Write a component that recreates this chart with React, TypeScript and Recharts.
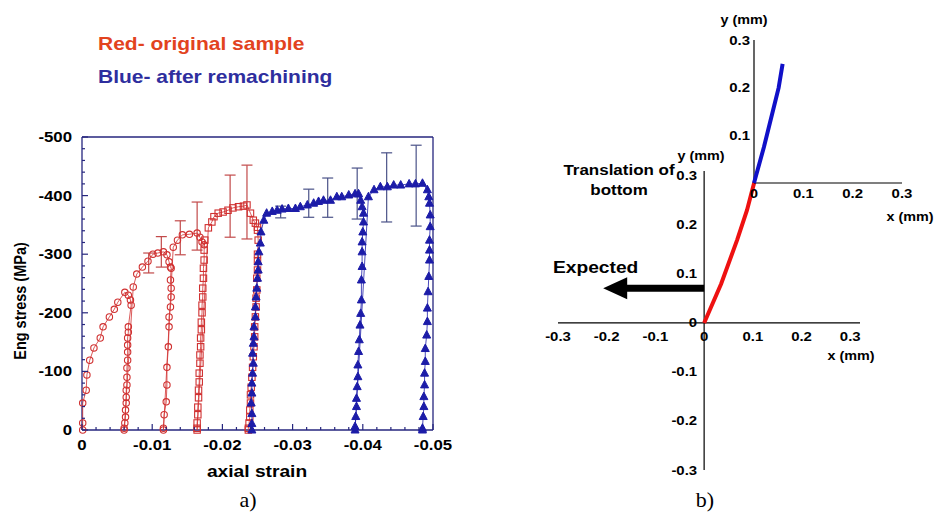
import React from "react"
import { ScatterChart, Scatter, XAxis, YAxis, ErrorBar, ReferenceLine } from "recharts"

const SANS = '"Liberation Sans", Arial, sans-serif'
const SERIF = '"Liberation Serif", "Times New Roman", serif'
const FRAME = "#26267e"
const RED = "#d03030"
const BLUE = "#1c1ca8"

// ---------- panel a): stress vs axial strain ----------
const circleStrain = [
  -0.0001, -0.0001, -0.0001, -0.0006, -0.0007, -0.0011, -0.0017, -0.0026, -0.003, -0.0039, -0.0046, -0.0051,
  -0.0061, -0.0066, -0.0069, -0.007,
  -0.0066, -0.0066, -0.0065, -0.0065, -0.0065, -0.0065, -0.0064, -0.0064, -0.0064, -0.0063, -0.0063, -0.0063,
  -0.0062, -0.0062, -0.0061, -0.006, -0.006,
  -0.0073, -0.0078, -0.0086, -0.0094, -0.0101, -0.0108, -0.0116, -0.0121, -0.0124, -0.0126, -0.0127,
  -0.0126, -0.0127, -0.0127, -0.0126, -0.0124, -0.0124, -0.0123, -0.0121, -0.0121, -0.012, -0.0117, -0.0116, -0.0116,
  -0.013, -0.0136, -0.0143, -0.0153, -0.0164, -0.0168, -0.0171, -0.0174,
]
const circleStress = [
  0, -12, -46, -68, -94, -119, -140, -157, -176, -193, -206, -218,
  -235, -230, -222, -213,
  -176, -167, -157, -145, -133, -119, -106, -90, -77, -68, -56, -46,
  -34, -22, -12, -3, 0,
  -244, -266, -278, -288, -300, -302, -304, -299, -287, -278, -276,
  -256, -242, -227, -210, -193, -176, -142, -107, -77, -48, -26, -3, 0,
  -312, -324, -333, -334, -336, -329, -321, -316,
]

const squareStrain = [
  -0.0175, -0.0174, -0.0174, -0.0173, -0.0173, -0.0172, -0.0172, -0.0171, -0.0171, -0.017, -0.017, -0.0169,
  -0.0169, -0.0168, -0.0168, -0.0167, -0.0167, -0.0166, -0.0166, -0.0165, -0.0165, -0.0164, -0.0164, -0.0164,
  -0.018, -0.0185, -0.0188, -0.0194, -0.0201, -0.0208, -0.0215, -0.0223, -0.023, -0.0235, -0.024, -0.0244,
  -0.0247, -0.025, -0.025,
  -0.0251, -0.025, -0.025, -0.025, -0.0249, -0.0249, -0.0248, -0.0248, -0.0247, -0.0246, -0.0246, -0.0245,
  -0.0244, -0.0243, -0.0242, -0.0241, -0.024, -0.024, -0.0239, -0.0239, -0.0238, -0.0237, -0.0237,
]
const squareStress = [
  -324, -307, -290, -276, -259, -242, -227, -213, -200, -184, -171, -157,
  -142, -128, -114, -97, -82, -68, -55, -39, -26, -12, -3, 0,
  -345, -355, -364, -370, -372, -375, -379, -381, -382, -384, -370, -358,
  -353, -346, -341,
  -324, -300, -288, -273, -259, -239, -225, -210, -193, -176, -159, -142,
  -125, -107, -90, -73, -60, -46, -34, -22, -12, -3, 0,
]

const triStrain = [
  -0.0242, -0.0242, -0.0242, -0.0241, -0.0242, -0.0242, -0.0243, -0.0244, -0.0243, -0.0244, -0.0245, -0.0245,
  -0.0247, -0.0247, -0.0248, -0.0249, -0.025, -0.0251, -0.0251, -0.0252, -0.0254, -0.0255,
  -0.0259, -0.0263, -0.0271, -0.0278, -0.0285, -0.0294, -0.0304, -0.0311, -0.0321, -0.033, -0.0337, -0.0344,
  -0.0354, -0.0363, -0.037, -0.038, -0.0389, -0.0394, -0.0397, -0.0399, -0.0401,
  -0.0401, -0.04, -0.0399, -0.0399, -0.0399, -0.0398, -0.0398, -0.0397, -0.0396, -0.0395, -0.0394, -0.0393,
  -0.0393, -0.0392, -0.0391, -0.0391, -0.039, -0.0389, -0.0389,
  -0.0408, -0.0416, -0.0425, -0.0435, -0.0444, -0.0454, -0.0466, -0.0475, -0.0485, -0.0492, -0.0494,
  -0.0495, -0.0496, -0.0496, -0.0495, -0.0495, -0.0495, -0.0494, -0.0493, -0.0492, -0.0492, -0.0491, -0.0489,
  -0.0489, -0.0488, -0.0488, -0.0487, -0.0487, -0.0486, -0.0485, -0.0485,
]
const triStress = [
  0, -11, -28, -46, -63, -80, -97, -114, -131, -148, -159, -176,
  -193, -210, -227, -242, -259, -273, -287, -304, -319, -338,
  -358, -370, -373, -375, -377, -378, -378, -381, -384, -387, -390, -392,
  -392, -398, -398, -401, -403, -403, -392, -381, -370,
  -355, -338, -321, -304, -279, -256, -222, -199, -179, -154, -134, -111,
  -91, -74, -54, -40, -23, -6, 0,
  -398, -410, -415, -415, -418, -418, -420, -420, -421, -410, -398,
  -387, -367, -347, -324, -307, -290, -262, -236, -208, -185, -162, -139,
  -117, -97, -77, -57, -40, -23, -3, 0,
]

const redBarStrain = [-0.0095, -0.0113, -0.014, -0.0164, -0.0211, -0.0235]
const redBarTop = [-302, -330, -357, -389, -435, -452]
const redBarBottom = [-268, -278, -299, -307, -329, -326]
const blueBarStrain = [-0.0283, -0.0323, -0.035, -0.0392, -0.0434, -0.0476]
const blueBarTop = [-382, -411, -430, -447, -473, -486]
const blueBarBottom = [-362, -363, -363, -360, -355, -348]

const strainTickLabels = ["0", "-0.01", "-0.02", "-0.03", "-0.04", "-0.05"]
const stressTickLabels = ["0", "-100", "-200", "-300", "-400", "-500"]

// ---------- panel b): translation of bottom ----------
const redPathX = [0, 0.035, 0.068, 0.088, 0.103]
const redPathY = [0, 0.08, 0.17, 0.23, 0.287]
const bluePathX = [0, 0.02, 0.038, 0.05, 0.058]
const bluePathY = [0, 0.075, 0.15, 0.2, 0.25]
const arrowX = [0, -0.16]
const arrowY = [0.071, 0.071]

const lowerTicks = [-0.3, -0.2, -0.1, 0, 0.1, 0.2, 0.3]
const lowerTickLabels = ["-0.3", "-0.2", "-0.1", "0", "0.1", "0.2", "0.3"]
const upperXTicks = [0, 0.1, 0.2, 0.3]
const upperXTickLabels = ["0", "0.1", "0.2", "0.3"]
const upperYTicks = [0.1, 0.2, 0.3]
const upperYTickLabels = ["0.1", "0.2", "0.3"]

const pts = (xs: number[], ys: number[]) => xs.map((x, i) => ({ x, y: ys[i] }))
const bars = (xs: number[], top: number[], bottom: number[]) =>
  xs.map((x, i) => {
    const c = (top[i] + bottom[i]) / 2
    return { x, y: c, err: [c - top[i], bottom[i] - c] }
  })

const minorStrain = Array.from({ length: 26 }, (_, i) => -i * 0.002)
const minorStress = Array.from({ length: 26 }, (_, i) => -i * 20)
const strainMajor = (v: number) => Math.round(Math.abs(v) / 0.002) % 5 === 0
const stressMajor = (v: number) => Math.round(Math.abs(v)) % 100 === 0

function SText({ x, y, anchor = "start", size, color = "#000", sx = 1.2, family = SANS, weight = "bold", children }: any) {
  return (
    <text
      transform={`translate(${x} ${y}) scale(${sx} 1)`}
      textAnchor={anchor}
      fontSize={size}
      fontFamily={family}
      fontWeight={weight}
      fill={color}
    >
      {children}
    </text>
  )
}

const BottomTick = (p: any) => {
  const v = p.payload.value
  const major = strainMajor(v)
  return (
    <g>
      <line x1={p.x} x2={p.x} y1={p.y} y2={p.y - (major ? 6 : 3)} stroke={FRAME} strokeWidth={1.2} />
      {major && (
        <SText x={p.x} y={p.y + 20} anchor="middle" size={14}>
          {strainTickLabels[Math.round(Math.abs(v) / 0.01)]}
        </SText>
      )}
    </g>
  )
}
const TopTick = (p: any) => (
  <line x1={p.x} x2={p.x} y1={p.y} y2={p.y + (strainMajor(p.payload.value) ? 6 : 3)} stroke={FRAME} strokeWidth={1.2} />
)
const LeftTick = (p: any) => {
  const v = p.payload.value
  const major = stressMajor(v)
  return (
    <g>
      <line x1={p.x} x2={p.x + (major ? 6 : 3)} y1={p.y} y2={p.y} stroke={FRAME} strokeWidth={1.2} />
      {major && (
        <SText x={p.x - 10} y={p.y + 5} anchor="end" size={14}>
          {stressTickLabels[Math.round(Math.abs(v) / 100)]}
        </SText>
      )}
    </g>
  )
}
const RightTick = (p: any) => (
  <line x1={p.x} x2={p.x - (stressMajor(p.payload.value) ? 6 : 3)} y1={p.y} y2={p.y} stroke={FRAME} strokeWidth={1.2} />
)

const circleShape = (p: any) => <circle cx={p.cx} cy={p.cy} r={3.2} fill="none" stroke={RED} strokeWidth={1.1} />
const squareShape = (p: any) => (
  <rect x={p.cx - 3.2} y={p.cy - 3.2} width={6.4} height={6.4} fill="none" stroke={RED} strokeWidth={1.1} />
)
const triShape = (p: any) => (
  <polygon points={`${p.cx},${p.cy - 4.5} ${p.cx - 4},${p.cy + 3} ${p.cx + 4},${p.cy + 3}`} fill={BLUE} stroke={BLUE} />
)
const noShape = () => <g />

const frameLine = { stroke: FRAME, strokeWidth: 1.3 }

function StressChart() {
  return (
    <ScatterChart width={470} height={470} margin={{ top: 136, right: 36, bottom: 0, left: 0 }}>
      <XAxis
        type="number"
        dataKey="x"
        domain={[-0.05, 0]}
        reversed
        ticks={minorStrain}
        interval={0}
        height={40}
        tickSize={0}
        tickMargin={0}
        tickLine={false}
        tick={BottomTick}
        axisLine={frameLine}
      />
      <XAxis
        xAxisId="top"
        orientation="top"
        type="number"
        domain={[-0.05, 0]}
        reversed
        ticks={minorStrain}
        interval={0}
        height={1}
        tickSize={0}
        tickMargin={0}
        tickLine={false}
        tick={TopTick}
        axisLine={frameLine}
      />
      <YAxis
        type="number"
        dataKey="y"
        domain={[-500, 0]}
        reversed
        ticks={minorStress}
        interval={0}
        width={82}
        tickSize={0}
        tickMargin={0}
        tickLine={false}
        tick={LeftTick}
        axisLine={frameLine}
      />
      <YAxis
        yAxisId="right"
        orientation="right"
        type="number"
        domain={[-500, 0]}
        reversed
        ticks={minorStress}
        interval={0}
        width={1}
        tickSize={0}
        tickMargin={0}
        tickLine={false}
        tick={RightTick}
        axisLine={frameLine}
      />
      <Scatter data={bars(redBarStrain, redBarTop, redBarBottom)} shape={noShape} isAnimationActive={false}>
        <ErrorBar dataKey="err" direction="y" width={5.5} stroke="#c24a4a" strokeWidth={1.2} isAnimationActive={false} />
      </Scatter>
      <Scatter data={bars(blueBarStrain, blueBarTop, blueBarBottom)} shape={noShape} isAnimationActive={false}>
        <ErrorBar dataKey="err" direction="y" width={5.5} stroke="#4a5288" strokeWidth={1.2} isAnimationActive={false} />
      </Scatter>
      <Scatter
        data={pts(circleStrain, circleStress)}
        shape={circleShape}
        fill={RED}
        line={{ stroke: RED, strokeWidth: 0.8 }}
        isAnimationActive={false}
      />
      <Scatter
        data={pts(squareStrain, squareStress)}
        shape={squareShape}
        fill={RED}
        line={{ stroke: RED, strokeWidth: 0.8 }}
        isAnimationActive={false}
      />
      <Scatter
        data={pts(triStrain, triStress)}
        shape={triShape}
        fill={BLUE}
        line={{ stroke: BLUE, strokeWidth: 0.8 }}
        isAnimationActive={false}
      />
    </ScatterChart>
  )
}

const labelPts = (xs: number[], ys: number[], labels: string[]) => xs.map((x, i) => ({ x, y: ys[i], label: labels[i] }))
const zeros = (n: number) => Array.from({ length: n }, () => 0)

const xLabelShape = (dy: number) => (p: any) => (
  <SText x={p.cx} y={p.cy + dy} anchor="middle" size={13} sx={1.15}>
    {p.payload.label}
  </SText>
)
const yLabelShape = (dx: number) => (p: any) => (
  <SText x={p.cx - dx} y={p.cy + 4.5} anchor="end" size={13} sx={1.15}>
    {p.payload.label}
  </SText>
)
const arrowShape = (p: any) =>
  p.payload.x === arrowX[1] ? (
    <polygon points={`${p.cx + 1},${p.cy - 11} ${p.cx - 23},${p.cy} ${p.cx + 1},${p.cy + 11}`} fill="#000" />
  ) : (
    <g />
  )

function LowerAxes() {
  return (
    <ScatterChart width={934} height={514} margin={{ top: 171, right: 74, bottom: 44, left: 558 }}>
      <XAxis type="number" dataKey="x" domain={[-0.3, 0.32]} hide height={0} />
      <YAxis type="number" dataKey="y" domain={[-0.3, 0.31]} hide width={0} />
      <ReferenceLine x={0} stroke="#000" strokeWidth={1.2} />
      <ReferenceLine y={0} stroke="#000" strokeWidth={1.2} />
      <Scatter data={labelPts(lowerTicks, zeros(7), lowerTickLabels)} shape={xLabelShape(18)} isAnimationActive={false} />
      <Scatter data={labelPts(zeros(7), lowerTicks, lowerTickLabels)} shape={yLabelShape(7)} isAnimationActive={false} />
      <Scatter
        data={pts(redPathX, redPathY)}
        shape={noShape}
        fill="#ee1111"
        line={{ stroke: "#ee1111", strokeWidth: 4 }}
        isAnimationActive={false}
      />
      <Scatter
        data={pts(arrowX, arrowY)}
        shape={arrowShape}
        fill="#000"
        line={{ stroke: "#000", strokeWidth: 7 }}
        isAnimationActive={false}
      />
    </ScatterChart>
  )
}

function UpperAxes() {
  return (
    <ScatterChart width={934} height={514} margin={{ top: 40, right: 32, bottom: 331, left: 754 }}>
      <XAxis type="number" dataKey="x" domain={[0, 0.3]} hide height={0} />
      <YAxis type="number" dataKey="y" domain={[0, 0.3]} hide width={0} />
      <ReferenceLine x={0} stroke="#000" strokeWidth={1.2} />
      <ReferenceLine y={0} stroke="#000" strokeWidth={1.2} />
      <Scatter data={labelPts(upperXTicks, zeros(4), upperXTickLabels)} shape={xLabelShape(15)} isAnimationActive={false} />
      <Scatter data={labelPts(zeros(3), upperYTicks, upperYTickLabels)} shape={yLabelShape(4)} isAnimationActive={false} />
      <Scatter
        data={pts(bluePathX, bluePathY)}
        shape={noShape}
        fill="#1010c8"
        line={{ stroke: "#1010c8", strokeWidth: 4 }}
        isAnimationActive={false}
      />
    </ScatterChart>
  )
}

const layer: React.CSSProperties = { position: "absolute", left: 0, top: 0 }

export default function App() {
  return (
    <div style={{ position: "absolute", left: 0, top: 0, width: 934, height: 514, background: "#fff", overflow: "hidden" }}>
      <div style={layer}>
        <StressChart />
      </div>
      <div style={layer}>
        <LowerAxes />
      </div>
      <div style={layer}>
        <UpperAxes />
      </div>
      <svg width={934} height={514} style={{ ...layer, pointerEvents: "none" }}>
        <SText x={98} y={50} size={17.5} color="#e2431e">Red- original sample</SText>
        <SText x={98} y={83} size={17.5} color="#2e2e9e">Blue- after remachining</SText>
        <SText x={257} y={477} anchor="middle" size={16}>axial strain</SText>
        <text
          transform="translate(26 301) rotate(-90) scale(1 1.2)"
          textAnchor="middle"
          fontSize={14.5}
          fontFamily={SANS}
          fontWeight="bold"
        >
          Eng stress (MPa)
        </text>
        <SText x={248} y={507} anchor="middle" size={22} sx={1} family={SERIF} weight="normal">a)</SText>
        <SText x={705} y={507} anchor="middle" size={22} sx={1} family={SERIF} weight="normal">b)</SText>
        <SText x={553} y={273} size={16}>Expected</SText>
        <SText x={619} y={175} anchor="middle" size={14.5} sx={1.17}>Translation of</SText>
        <SText x={619} y={195} anchor="middle" size={14.5} sx={1.17}>bottom</SText>
        <SText x={744} y={24} anchor="middle" size={12.5} sx={1.15}>y (mm)</SText>
        <SText x={701} y={160} anchor="middle" size={12.5} sx={1.15}>y (mm)</SText>
        <SText x={910} y={221} anchor="middle" size={12.5} sx={1.15}>x (mm)</SText>
        <SText x={851} y={360} anchor="middle" size={12.5} sx={1.15}>x (mm)</SText>
      </svg>
    </div>
  )
}
